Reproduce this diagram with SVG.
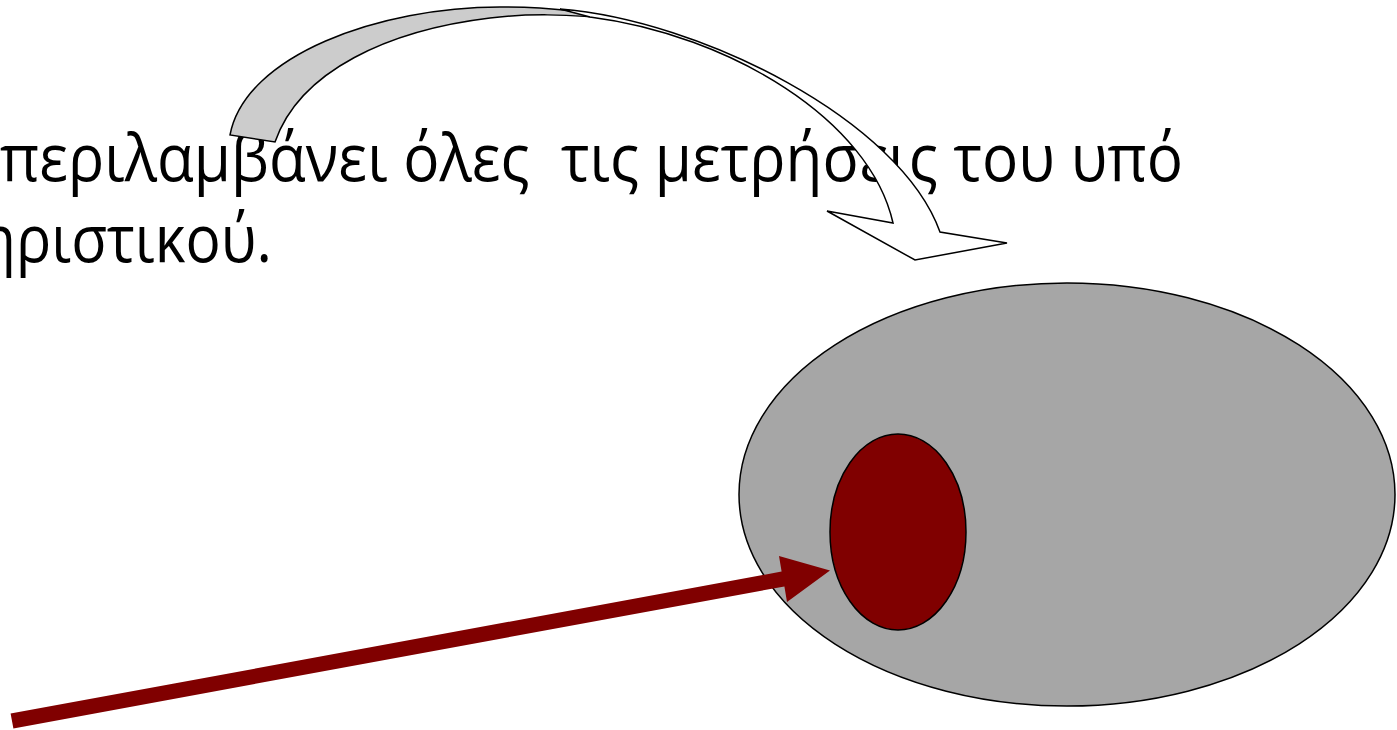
<svg xmlns="http://www.w3.org/2000/svg" width="1397" height="730" viewBox="0 0 1397 730">
<style>
.t{font-family:"Open Sans","Noto Sans","DejaVu Sans",sans-serif;font-size:66px;fill:#000;white-space:pre}
.ol{stroke:#000;stroke-width:1.5;stroke-linejoin:miter}
</style>
<rect width="1397" height="730" fill="#fff"/>
<g id="text">
<text class="t" x="0" y="181" textLength="1183" lengthAdjust="spacingAndGlyphs">περιλαμβάνει όλες  τις μετρήσεις του υπό</text>
<text class="t" x="-20" y="262" textLength="292" lengthAdjust="spacingAndGlyphs">ηριστικού.</text>
</g>
<g id="population">
<ellipse cx="1067" cy="494.5" rx="328" ry="211.5" fill="#a6a6a6" class="ol"/>
</g>
<g id="sample">
<ellipse cx="898" cy="532" rx="68" ry="98" fill="#800000" class="ol"/>
</g>
<g id="connectors">
<path id="curved-arrow-back" class="ol" fill="#cccccc" d="M230,135 C245,55 380,7 500,7 C550,7 590,12 620,20 C570,13 520,14 490,18 C390,30 300,70 275,142 Z"/>
<path id="curved-arrow-front" class="ol" fill="#ffffff" d="M560,9 C700,20 900,120 940,232 L1007,243 L915,260 L827,211 L893,223 C870,120 730,35 590,17 Z"/>
<polygon id="red-arrow" fill="#800000" points="10.6,713.6 781.6,571.6 779,556 830,570.5 787,602 784.4,586.4 13.4,728.4"/>
</g>
</svg>
